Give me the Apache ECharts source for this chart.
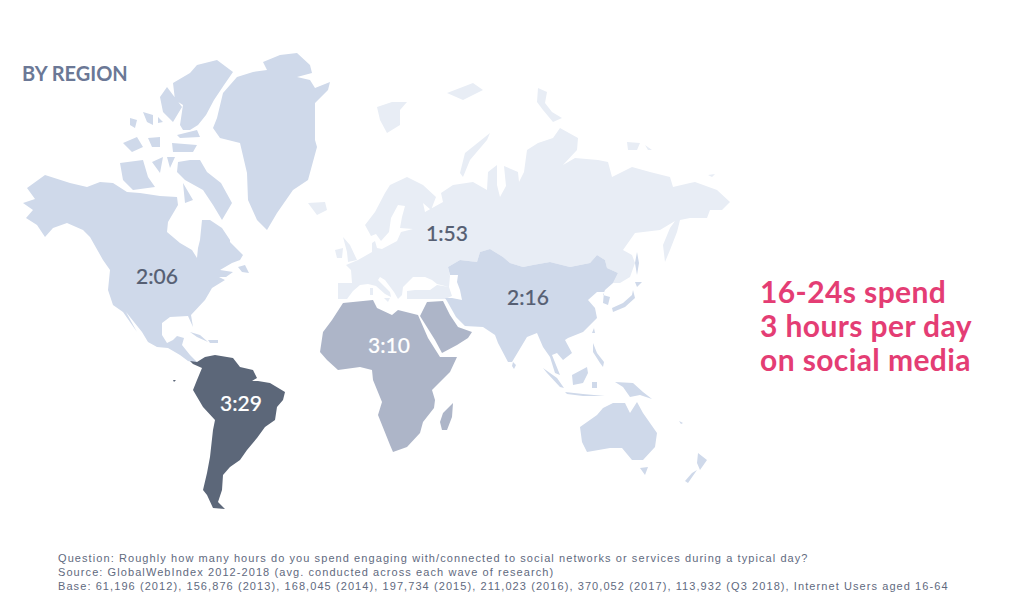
<!DOCTYPE html>
<html>
<head>
<meta charset="utf-8">
<title>By region</title>
<style>
html, body { margin: 0; padding: 0; background: #fff; }
#main { width: 1029px; height: 613px; }
/* footnote and callout are letter spaced in the original */
#main text[style*="Liberation Sans"] { letter-spacing: 1.08px; }
#main text[style*="30px"] { letter-spacing: 0.4px; }
</style>
<script src="https://cdn.jsdelivr.net/npm/echarts@6/dist/echarts.min.js"></script>
</head>
<body>
<div id="main"></div>
<script>
// average time on social media per region, minutes per day
var regions = ['North America', 'Europe', 'Asia Pacific', 'Middle East & Africa', 'Latin America'];
var minutes = [126, 113, 136, 190, 209];
var timeLabels = ['2:06', '1:53', '2:16', '3:10', '3:29'];

var heading = 'BY REGION';
var callout = ['16-24s spend', '3 hours per day', 'on social media'];
var footnotes = [
    'Question: Roughly how many hours do you spend engaging with/connected to social networks or services during a typical day?',
    'Source: GlobalWebIndex 2012-2018 (avg. conducted across each wave of research)',
    'Base: 61,196 (2012), 156,876 (2013), 168,045 (2014), 197,734 (2015), 211,023 (2016), 370,052 (2017), 113,932 (Q3 2018), Internet Users aged 16-64'
];

// map outlines (map units = picture pixels)
var northAmerica = [
    [[45,175],[27,188],[35,199],[23,203],[33,210],[26,218],[37,225],[45,237],[53,228],[67,223],[83,230],[90,237],[103,260],[110,270],[108,290],[113,305],[123,312],[137,332],[126,312],[142,332],[148,342],[157,347],[168,348],[180,355],[188,361],[192,362],[197,362],[190,355],[182,345],[184,338],[177,336],[173,340],[167,343],[162,335],[162,323],[170,317],[188,316],[193,327],[191,315],[205,300],[212,288],[225,280],[219,277],[226,277],[233,272],[220,270],[232,263],[240,260],[243,255],[230,242],[230,240],[222,228],[210,220],[202,220],[200,240],[198,248],[197,258],[192,250],[180,243],[167,232],[168,222],[178,205],[177,197],[160,196],[140,193],[127,192],[113,183],[100,182],[87,187],[70,183]],
    [[178,162],[190,160],[200,160],[207,172],[221,183],[232,203],[222,220],[213,205],[203,190],[185,180],[177,172]],
    [[120,163],[143,160],[148,177],[155,187],[133,190],[123,180]],
    [[152,162],[163,157],[160,173]],
    [[167,157],[175,157],[170,168]],
    [[183,183],[193,200],[185,203]],
    [[173,83],[190,73],[197,65],[217,60],[233,72],[224,85],[214,100],[206,115],[198,125],[190,130],[183,130],[180,125],[183,105],[175,100]],
    [[160,97],[167,87],[182,107],[173,122],[163,112]],
    [[177,135],[197,130],[200,137],[180,138]],
    [[123,143],[137,137],[143,147],[132,152]],
    [[148,138],[160,137],[160,147],[152,147]],
    [[172,143],[197,145],[193,152],[173,152]],
    [[143,112],[153,115],[153,125],[147,122]],
    [[130,118],[137,120],[135,128],[130,125]],
    [[158,117],[163,122],[158,123]],
    [[238,267],[245,265],[249,273],[242,272]],
    [[263,62],[280,55],[297,53],[310,65],[312,73],[297,77],[310,80],[315,88],[330,82],[328,90],[315,103],[315,140],[317,147],[308,180],[293,190],[277,213],[267,230],[257,220],[248,200],[247,173],[240,143],[220,138],[213,128],[217,118],[223,93],[237,77],[253,72],[267,70]],
    [[190,332],[200,335],[208,342],[197,337]],
    [[208,340],[218,340],[218,343],[210,343]]
];
var latinAmerica = [
    [[190,361],[197,362],[205,357],[215,355],[233,358],[240,367],[253,370],[257,378],[252,381],[258,381],[270,383],[285,392],[283,400],[277,407],[275,420],[265,427],[257,438],[247,450],[240,460],[230,467],[223,475],[222,490],[218,502],[225,509],[213,508],[207,495],[203,490],[207,473],[210,457],[213,430],[215,420],[203,407],[193,390],[197,380],[202,368],[193,364]],
    [[173,380],[176,380],[174,382]]
];
var middleEastAfrica = [
    [[343,303],[373,300],[377,308],[392,315],[398,310],[418,315],[428,338],[440,357],[457,357],[450,372],[432,390],[435,400],[434,408],[423,422],[420,433],[407,447],[393,452],[390,445],[378,415],[382,402],[373,380],[372,370],[360,367],[338,370],[327,360],[320,352],[323,332],[332,320]],
    [[420,316],[427,302],[443,301],[450,315],[458,327],[472,332],[468,338],[457,345],[442,353],[435,340]],
    [[453,403],[452,417],[447,430],[442,430],[440,422],[443,413]]
];
var europe = [
    [[338,283],[352,283],[351,270],[346,265],[358,260],[372,252],[372,243],[375,241],[377,248],[382,249],[397,241],[401,232],[413,229],[400,228],[402,217],[405,206],[398,205],[391,218],[389,232],[381,241],[376,234],[371,236],[365,225],[375,212],[385,193],[390,185],[407,177],[423,185],[436,197],[431,210],[423,203],[425,212],[443,202],[441,193],[453,185],[473,182],[487,190],[488,172],[497,165],[497,185],[500,197],[506,186],[504,166],[518,172],[519,182],[524,172],[527,150],[538,143],[553,138],[560,128],[578,138],[577,150],[563,165],[575,158],[598,160],[608,162],[612,177],[632,167],[650,172],[670,177],[673,187],[690,183],[695,182],[717,190],[730,202],[722,210],[710,210],[707,218],[690,218],[680,220],[677,232],[670,250],[665,262],[663,245],[670,228],[675,221],[660,230],[635,233],[623,250],[632,255],[635,263],[630,277],[620,283],[613,283],[618,273],[607,268],[605,260],[597,255],[590,263],[570,267],[550,262],[533,265],[523,267],[510,263],[503,257],[490,249],[480,252],[477,262],[460,260],[448,267],[450,276],[449,287],[437,284],[432,280],[425,277],[413,277],[403,287],[402,295],[398,299],[394,292],[385,280],[380,277],[378,280],[390,292],[391,297],[385,294],[376,286],[368,284],[360,285],[353,291],[347,299],[338,299]],
    [[407,291],[415,290],[430,290],[437,285],[449,287],[452,296],[445,299],[437,299],[407,299]],
    [[343,237],[350,245],[357,260],[348,262],[347,252]],
    [[335,250],[343,248],[342,258],[337,258]],
    [[308,203],[325,202],[327,210],[317,215]],
    [[384,298],[390,298],[388,302]],
    [[370,288],[373,288],[373,295],[370,295]],
    [[460,173],[465,153],[490,133],[487,140],[470,160],[463,177]],
    [[377,107],[392,102],[407,102],[400,110],[400,125],[387,133],[380,120]],
    [[447,93],[473,83],[483,90],[463,100]],
    [[538,88],[547,92],[545,103],[552,112],[562,118],[553,122],[543,110],[537,102]],
    [[627,142],[640,143],[637,150],[628,150]],
    [[645,145],[652,150],[648,150]],
    [[708,175],[715,174],[712,177]]
];
var asiaPacific = [
    [[448,267],[460,260],[477,262],[480,252],[490,249],[503,257],[510,263],[523,267],[533,265],[550,262],[570,267],[590,263],[597,255],[605,260],[607,268],[618,273],[613,283],[605,290],[603,295],[610,297],[608,305],[603,303],[604,292],[597,292],[588,300],[595,308],[597,318],[583,332],[568,338],[565,340],[572,353],[563,360],[557,353],[552,355],[560,375],[555,373],[550,357],[543,347],[537,333],[527,337],[512,362],[508,362],[498,343],[495,335],[483,327],[465,326],[456,317],[447,301],[445,298],[452,298],[462,300],[460,290],[457,282],[458,275],[450,275]],
    [[513,362],[516,365],[514,369],[512,366]],
    [[633,290],[635,298],[625,307],[613,312],[612,308],[623,303],[632,295]],
    [[635,282],[642,282],[637,287]],
    [[637,252],[639,263],[637,275],[635,263]],
    [[594,328],[595,333],[592,333]],
    [[593,343],[597,353],[604,362],[603,367],[600,363],[593,352]],
    [[543,368],[557,378],[564,388],[560,387],[547,373]],
    [[565,392],[583,394],[605,396],[583,396],[567,394]],
    [[572,375],[587,367],[588,373],[583,383],[573,385]],
    [[592,382],[597,382],[597,388],[592,388]],
    [[615,382],[633,383],[643,392],[652,399],[640,395],[630,397],[623,387]],
    [[580,427],[597,415],[603,408],[613,403],[625,403],[630,413],[637,402],[643,413],[657,433],[655,447],[643,460],[632,460],[622,448],[610,448],[587,452],[582,442]],
    [[640,468],[648,467],[645,475]],
    [[698,453],[707,460],[700,470],[697,463]],
    [[697,470],[688,483],[685,481],[692,473]],
    [[679,421],[683,423],[681,424]]
];
var outlines = [northAmerica, europe, asiaPacific, middleEastAfrica, latinAmerica];
var labelSpots = [[157,275],[447,232],[528,296],[389,344],[241,402]];
var regionColors = ['#cfd9ea', '#e8edf5', '#cfd9ea', '#adb5c8', '#5c6779'];
var labelColors = ['#565f73', '#565f73', '#565f73', '#ffffff', '#ffffff'];

function buildMap() {
    return {
        type: 'FeatureCollection',
        features: regions.map(function (name, i) {
            return {
                type: 'Feature',
                properties: { name: name, cp: labelSpots[i] },
                geometry: {
                    type: 'MultiPolygon',
                    coordinates: outlines[i].map(function (ring) { return [ring]; })
                }
            };
        })
    };
}

echarts.registerMap('byRegion', buildMap());

var myChart = echarts.init(document.getElementById('main'), null, { renderer: 'svg' });

function textBlock(text, left, top, font, size, weight, fill) {
    return {
        type: 'text',
        left: left,
        top: top,
        style: { text: text, fontFamily: font, fontSize: size, fontWeight: weight, fill: fill }
    };
}

var option = {
    backgroundColor: '#ffffff',
    animation: false,
    series: [{
        type: 'map',
        map: 'byRegion',
        silent: true,
        aspectScale: 1,
        projection: {
            project: function (p) { return p; },
            unproject: function (p) { return p; }
        },
        boundingCoords: [[0, 0], [1029, 613]],
        left: 0,
        top: 0,
        width: 1029,
        height: 613,
        itemStyle: { borderWidth: 0 },
        data: regions.map(function (name, i) {
            return {
                name: name,
                value: minutes[i],
                itemStyle: { areaColor: regionColors[i], borderWidth: 0 },
                label: {
                    show: true,
                    formatter: timeLabels[i],
                    color: labelColors[i],
                    fontFamily: 'Lato',
                    fontSize: 21,
                    fontWeight: 500,
                    textBorderColor: labelColors[i],
                    textBorderWidth: 0.15
                }
            };
        })
    }],
    graphic: [
        textBlock(heading, 22, 63, 'Lato', 20, 'bold', '#6b7896'),
        textBlock(callout[0], 760, 276, 'Lato', 30, 'bold', '#e43d74'),
        textBlock(callout[1], 760, 310, 'Lato', 30, 'bold', '#e43d74'),
        textBlock(callout[2], 760, 344, 'Lato', 30, 'bold', '#e43d74'),
        textBlock(footnotes[0], 58, 552, 'Liberation Sans', 11, 'normal', '#5f6a80'),
        textBlock(footnotes[1], 58, 566, 'Liberation Sans', 11, 'normal', '#5f6a80'),
        textBlock(footnotes[2], 58, 580, 'Liberation Sans', 11, 'normal', '#5f6a80')
    ]
};
myChart.setOption(option);
</script>
</body>
</html>
